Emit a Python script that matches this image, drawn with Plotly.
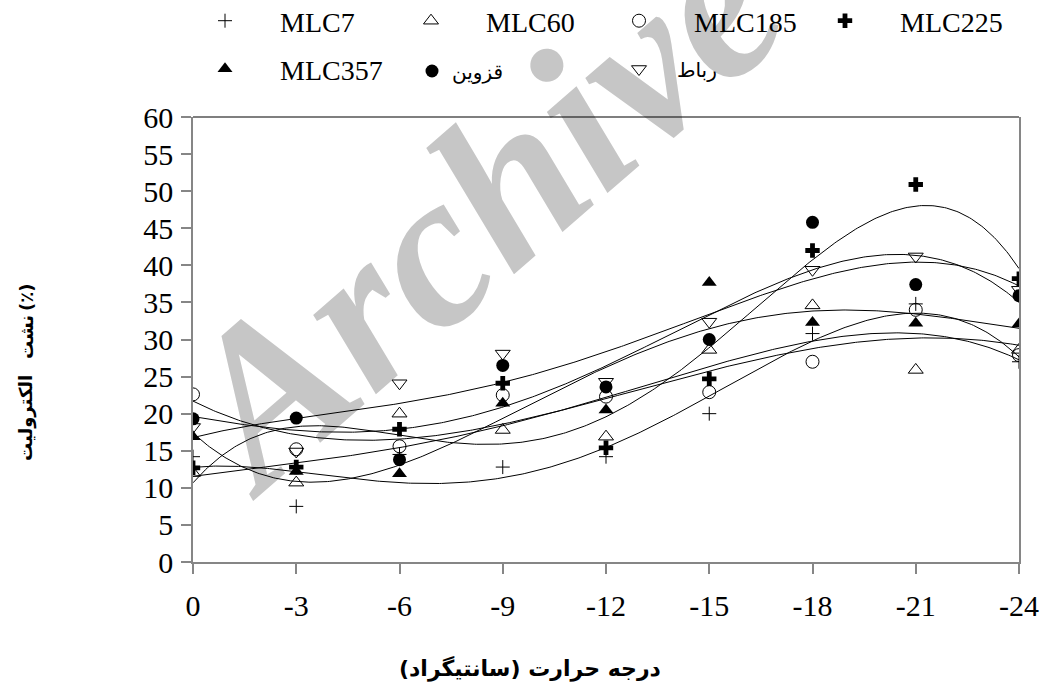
import numpy as np
import plotly.graph_objects as go

# ---------------- data ----------------
temps = [0, -3, -6, -9, -12, -15, -18, -21, -24]
tick_labels = ["0", "-3", "-6", "-9", "-12", "-15", "-18", "-21", "-24"]

mlc7 = [14.2, 7.5, 14.5, 12.8, 14.2, 20.0, 30.8, 34.8, 27.0]
mlc60 = [12.0, 10.7, 20.0, 17.8, 16.9, 28.6, 34.6, 25.9, 28.6]
mlc185 = [22.6, 15.2, 15.6, 22.5, 22.3, 22.9, 27.0, 34.0, 27.9]
mlc225 = [12.7, 12.8, 17.9, 24.1, 15.4, 24.7, 42.0, 50.9, 38.2]
mlc357 = [16.9, 12.2, 11.9, 21.4, 20.5, 37.7, 32.3, 32.2, 32.1]
qazvin = [19.3, 19.4, 13.8, 26.5, 23.6, 30.0, 45.8, 37.4, 35.9]
rabat = [18.2, 14.9, 24.1, 28.1, 24.3, 32.4, 39.4, 41.2, 36.7]

names = ["MLC7", "MLC60", "MLC185", "MLC225", "MLC357", "قزوین", "رباط"]
values = [mlc7, mlc60, mlc185, mlc225, mlc357, qazvin, rabat]
FIT_ORDER = 4

RLM = "\u200f"
xtitle = RLM + "درجه حرارت (سانتیگراد)" + RLM
# y-axis title words, bottom to top as shown
ytitle_words = ["الکترولیت", "نشت", "(٪)"]

W, H = 1041, 691
PLOT_L, PLOT_R, PLOT_T, PLOT_B = 193, 1019, 117, 562   # screen px
ML, MR, MT, MB = PLOT_L, W - PLOT_R, PLOT_T, H - PLOT_B
PW, PH = W - ML - MR, H - MT - MB


def px(sx):
    return (sx - PLOT_L) / PW


def py(sy):
    return (PLOT_B - sy) / PH


markers = [
    dict(symbol="cross-thin-open", size=10, color="black", line=dict(width=1, color="black")),
    dict(symbol="triangle-up-open", size=13, color="black", line=dict(width=1, color="black")),
    dict(symbol="circle-open", size=13, color="black", line=dict(width=1, color="black")),
    dict(symbol="cross", size=12, color="black", line=dict(width=0)),
    dict(symbol="triangle-up", size=13, color="black", line=dict(width=0)),
    dict(symbol="circle", size=13, color="black", line=dict(width=0)),
    dict(symbol="triangle-down-open", size=13, color="black", line=dict(width=1, color="black")),
]

# legend item placement (screen px): (symbol x, symbol y, itemwidth, font size)
leg_pos = [
    (225, 23, 100, 28),
    (431, 23, 100, 28),
    (639, 23, 100, 28),
    (845, 23, 100, 28),
    (225, 71, 100, 28),
    (432, 73, 30, 20),
    (639, 71, 66, 20),
]

fig = go.Figure()

xfit = np.linspace(0, -24, 400)
for vals in values:
    coef = np.polyfit(temps, vals, FIT_ORDER)
    fig.add_trace(go.Scatter(x=xfit, y=np.polyval(coef, xfit), mode="lines",
                             line=dict(color="black", width=1), showlegend=False,
                             hoverinfo="skip"))

legends = {}
for i, (name, vals, mk) in enumerate(zip(names, values, markers)):
    key = "legend" if i == 0 else f"legend{i + 1}"
    sx, sy, iw, fs = leg_pos[i]
    left = sx - (iw / 2 + 5)
    yc = sy - 2
    legends[key] = dict(
        xref="container", yref="container",
        x=left / W, y=(H - yc) / H, xanchor="left", yanchor="middle",
        itemwidth=iw, bgcolor="rgba(0,0,0,0)", borderwidth=0,
        font=dict(family="Liberation Serif, DejaVu Sans", size=fs, color="black"),
    )
    fig.add_trace(go.Scatter(x=temps, y=vals, mode="markers", name=name,
                             marker=mk, legend=key))

fig.update_layout(**legends)

annotations = [dict(text=xtitle, xref="paper", yref="paper",
                    x=px(530), y=py(668), xanchor="center", yanchor="middle",
                    showarrow=False,
                    font=dict(family="DejaVu Sans", size=22, color="black",
                              weight="bold"))]
for word, cy in zip(ytitle_words, [418, 337, 298]):
    annotations.append(dict(text=word, xref="paper", yref="paper",
                            x=px(26), y=py(cy), xanchor="center", yanchor="middle",
                            textangle=-90, showarrow=False,
                            font=dict(family="DejaVu Sans", size=18, color="black",
                                      weight="bold")))

fig.update_layout(
    width=W, height=H,
    margin=dict(l=ML, r=MR, t=MT, b=MB, autoexpand=False),
    paper_bgcolor="white", plot_bgcolor="white",
    showlegend=True,
    font=dict(family="Liberation Serif, DejaVu Sans", size=28, color="black"),
    xaxis=dict(range=[0, -24], tickvals=temps, ticktext=tick_labels,
               showgrid=False, zeroline=False, showline=True,
               linecolor="#868686", linewidth=1.5,
               ticks="outside", ticklen=10, tickwidth=1.5, tickcolor="#868686",
               tickfont=dict(size=30, family="Liberation Serif"),
               ticklabelstandoff=6, automargin=False),
    yaxis=dict(range=[0, 60], dtick=5, showgrid=False, zeroline=False,
               showline=True, mirror=True, linecolor="#868686", linewidth=1.5,
               ticks="outside", ticklen=10, tickwidth=1.5, tickcolor="#868686",
               tickfont=dict(size=30, family="Liberation Serif"),
               ticklabelstandoff=2, automargin=False),
    shapes=[
        dict(type="line", xref="paper", yref="paper", x0=0, x1=1, y0=1, y1=1,
             line=dict(color="black", width=1.2), layer="above"),
        dict(type="rect", xref="paper", yref="paper",
             x0=px(465) - 0.005, x1=px(465) + 0.005,
             y0=py(187) - 0.005, y1=py(187) + 0.005,
             line=dict(width=0), fillcolor="rgba(0,0,0,0)", layer="below",
             label=dict(text="Archive", textangle=-41, textposition="middle center",
                        font=dict(family="Liberation Serif", size=220,
                                  color="#c6c6c6", weight="bold", style="italic"))),
    ],
    annotations=annotations,
)

fig.write_html("out.html", config={"displayModeBar": False},
               post_script="document.body.style.margin='0';"
                           "document.body.style.overflow='hidden';")
